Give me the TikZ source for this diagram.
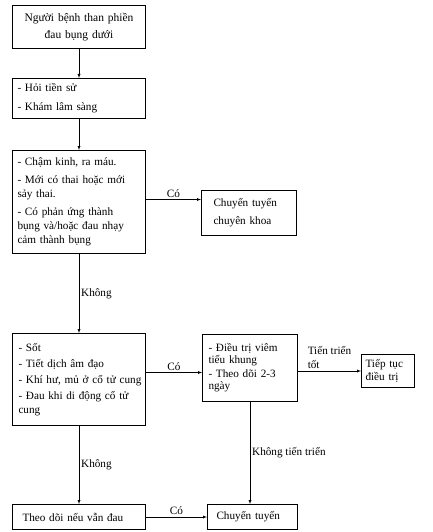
\documentclass[tikz,border=0pt]{standalone}
\usepackage{fontspec}
\setmainfont{Liberation Serif}
\usetikzlibrary{arrows, positioning}

\begin{document}
\begin{tikzpicture}[x=1pt, y=-1pt, >=latex, font=\fontsize{11.2}{14}\selectfont,
    box/.style={draw, line width=1pt, inner xsep=5pt, inner ysep=2pt, text width=123pt, align=left},
    lbl/.style={inner sep=2pt}]

    \useasboundingbox (0,0) rectangle (433,532);

    % Nodes
    \node (complaint) [box, anchor=north west, minimum height=43pt, align=center,
        font=\fontsize{11.5}{17}\selectfont] at (12,5)
        {Người bệnh than phiền\\đau bụng dưới};
    \node [below=29pt of complaint] (history) [box, minimum height=40pt]
        {- Hỏi tiền sử\\[5pt]- Khám lâm sàng};
    \node [below=31pt of history] (warning) [box, minimum height=103pt]
        {- Chậm kinh, ra máu.\\[4pt]- Mới có thai hoặc mới\\sảy thai.\\[4pt]- Có phản ứng thành\\bụng và/hoặc đau nhạy\\cảm thành bụng};
    \node [below=79pt of warning] (signs) [box, minimum height=92pt, inner xsep=6pt, text width=121pt]
        {- Sốt\\[2pt]- Tiết dịch âm đạo\\[2pt]\mbox{- Khí hư, mủ ở cổ tử cung}\\[2pt]- Đau khi di động cổ tử\\cung};
    \node [below=78pt of signs] (follow) [box, minimum height=25pt, inner xsep=10pt, text width=113pt]
        {Theo dõi nếu vẫn đau};

    \node [right=55pt of warning, yshift=-11pt] (refer_spec) [box, minimum height=45pt, inner xsep=12pt, text width=71pt]
        {Chuyển tuyến\\[4pt]chuyên khoa};
    \node [right=56pt of signs, yshift=11.5pt] (treat) [box, minimum height=67pt, inner xsep=6pt, text width=83pt,
        font=\fontsize{11.2}{12}\selectfont]
        {- Điều trị viêm\\tiểu khung\\[2pt]- Theo dõi 2-3\\ngày};
    \node [right=63pt of treat, yshift=-3pt] (keep_on) [box, minimum height=33pt, inner xsep=4pt, text width=45pt,
        font=\fontsize{11.2}{13}\selectfont]
        {Tiếp tục\\điều trị};
    \node [right=61pt of follow] (refer) [box, minimum height=25pt, inner xsep=9pt, text width=72pt]
        {Chuyển tuyến};

    % Arrows and edge labels
    \draw[->] (complaint) -- (history);
    \draw[->] (history) -- (warning);
    \draw[->] ([yshift=2.5pt]warning.east) -- node[lbl, above] {Có} ([yshift=2.5pt]warning.east -| refer_spec.west);
    \draw[->] (warning) -- node[lbl, right] {Không} (signs);
    \draw[->] ([yshift=7pt]signs.east) -- node[lbl, above] {Có} ([yshift=7pt]signs.east -| treat.west);
    \draw[->] (treat.east |- keep_on.west) -- node[lbl, above, align=left, font=\fontsize{11.2}{14}\selectfont] {Tiến triển\\tốt} (keep_on.west);
    \draw[->] (treat.south) -- node[lbl, right] {Không tiến triển} (treat.south |- refer.north);
    \draw[->] (signs) -- node[lbl, right] {Không} (follow);
    \draw[->] (follow) -- node[lbl, above] {Có} (refer);

\end{tikzpicture}
\end{document}
